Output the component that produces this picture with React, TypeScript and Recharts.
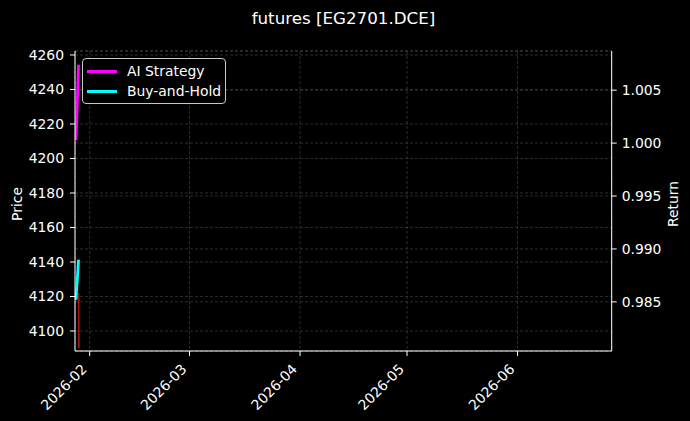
import React from "react";
import {
  ComposedChart,
  Line,
  XAxis,
  YAxis,
  CartesianGrid,
  Legend,
} from "recharts";

const DATES = ["2026-01-28T04:00:00Z", "2026-01-28T21:00:00Z", "2026-01-29T00:00:00Z"];
const STRATEGY = [1.0003, 1.0074, null];
const BUY_HOLD = [0.9852, 0.989, null];
const PRICE = [null, 4122, 4090];

const MONTH_TICKS = ["2026-02-01", "2026-03-01", "2026-04-01", "2026-05-01", "2026-06-01"];
const PRICE_TICKS = [4100, 4120, 4140, 4160, 4180, 4200, 4220, 4240, 4260];
const RETURN_TICKS = [0.985, 0.99, 0.995, 1.0, 1.005];

const X_DOMAIN = ["2026-01-27T21:07:00Z", "2026-06-27T09:36:00Z"];
const PRICE_DOMAIN = [4088.4, 4262.3];
const RETURN_DOMAIN = [0.98036, 1.0087];

const FONT = "'DejaVu Sans', sans-serif";
const GRID = "#4a4a4a";

const data = DATES.map((d, i) => ({
  t: Date.parse(d),
  strategy: STRATEGY[i],
  buyHold: BUY_HOLD[i],
  price: PRICE[i],
}));

const xTicks = MONTH_TICKS.map((d) => Date.parse(d + "T00:00:00Z"));
const xDomain = X_DOMAIN.map((d) => Date.parse(d));

const fmtMonth = (v: number) => {
  const d = new Date(v);
  return `${d.getUTCFullYear()}-${String(d.getUTCMonth() + 1).padStart(2, "0")}`;
};

const DateTick = ({ x, y, payload }: any) => {
  const ax = x - 2;
  const ay = y + 12;
  return (
    <text
      x={ax}
      y={ay}
      transform={`rotate(-45, ${ax}, ${ay})`}
      textAnchor="end"
      fill="#ffffff"
      fontSize={13.9}
      fontFamily={FONT}
    >
      {fmtMonth(payload.value)}
    </text>
  );
};

const SideLabel = ({ viewBox, text, cx }: any) => {
  const cy = viewBox.y + viewBox.height / 2 + 3;
  return (
    <text
      x={cx}
      y={cy}
      transform={`rotate(-90, ${cx}, ${cy})`}
      textAnchor="middle"
      dominantBaseline="central"
      fill="#ffffff"
      fontSize={13.9}
      fontFamily={FONT}
    >
      {text}
    </text>
  );
};

const LEGEND_ITEMS = [
  { name: "AI Strategy", color: "#ff00ff" },
  { name: "Buy-and-Hold", color: "#00ffff" },
];

const LegendBox = () => (
  <div
    style={{
      position: "relative",
      width: 144,
      height: 46,
      boxSizing: "border-box",
      border: "1px solid #c8c8c8",
      borderRadius: 4,
      background: "rgba(0,0,0,0.8)",
      fontFamily: FONT,
      fontSize: 13.9,
      color: "#ffffff",
    }}
  >
    {LEGEND_ITEMS.map((item, i) => (
      <div
        key={item.name}
        style={{ position: "absolute", left: 4, top: 2 + i * 20, height: 20, display: "flex", alignItems: "center" }}
      >
        <div style={{ width: 30, height: 3, background: item.color }} />
        <span style={{ marginLeft: 10, whiteSpace: "nowrap", lineHeight: "20px" }}>{item.name}</span>
      </div>
    ))}
  </div>
);

export default function App() {
  return (
    <div
      style={{
        position: "absolute",
        left: 0,
        top: 0,
        width: 690,
        height: 421,
        background: "#000000",
        fontFamily: FONT,
      }}
    >
      <div
        style={{
          position: "absolute",
          left: 0,
          top: 8,
          width: 687,
          textAlign: "center",
          color: "#ffffff",
          fontSize: 16.7,
          lineHeight: "20px",
        }}
      >
        futures [EG2701.DCE]
      </div>
      <ComposedChart
        width={690}
        height={421}
        data={data}
        margin={{ top: 51, right: 0, bottom: 0, left: 0 }}
      >
        <CartesianGrid
          xAxisId="bottom"
          yAxisId="price"
          stroke={GRID}
          strokeWidth={0.6}
          strokeDasharray="3 2"
        />
        <CartesianGrid
          xAxisId="bottom"
          yAxisId="ret"
          vertical={false}
          stroke={GRID}
          strokeWidth={0.6}
          strokeDasharray="3 2"
        />
        <XAxis
          xAxisId="bottom"
          dataKey="t"
          type="number"
          domain={xDomain}
          ticks={xTicks}
          allowDataOverflow
          height={70}
          stroke="#ffffff"
          tickSize={5}
          tick={<DateTick />}
          interval={0}
        />
        <XAxis
          xAxisId="top"
          orientation="top"
          dataKey="t"
          type="number"
          domain={xDomain}
          allowDataOverflow
          height={0}
          stroke="#ffffff"
          tick={false}
          tickLine={false}
        />
        <YAxis
          yAxisId="price"
          type="number"
          domain={PRICE_DOMAIN}
          ticks={PRICE_TICKS}
          allowDataOverflow
          width={75}
          stroke="#ffffff"
          tickSize={5}
          tickMargin={6}
          tick={{ fill: "#ffffff", fontSize: 13.9, fontFamily: FONT }}
          interval={0}
          label={<SideLabel text="Price" cx={17} />}
        />
        <YAxis
          yAxisId="ret"
          orientation="right"
          type="number"
          domain={RETURN_DOMAIN}
          ticks={RETURN_TICKS}
          allowDataOverflow
          width={78.3}
          stroke="#ffffff"
          tickSize={5}
          tickMargin={5}
          tick={{ fill: "#ffffff", fontSize: 13.9, fontFamily: FONT }}
          tickFormatter={(v: number) => v.toFixed(3)}
          interval={0}
          label={<SideLabel text="Return" cx={673} />}
        />
        <Line
          xAxisId="bottom"
          yAxisId="price"
          dataKey="price"
          type="linear"
          stroke="#b01818"
          strokeWidth={1.5}
          dot={false}
          isAnimationActive={false}
          legendType="none"
        />
        <Line
          xAxisId="bottom"
          yAxisId="ret"
          dataKey="strategy"
          name="AI Strategy"
          type="linear"
          stroke="#ff00ff"
          strokeWidth={2.8}
          dot={false}
          isAnimationActive={false}
        />
        <Line
          xAxisId="bottom"
          yAxisId="ret"
          dataKey="buyHold"
          name="Buy-and-Hold"
          type="linear"
          stroke="#00ffff"
          strokeWidth={2.8}
          dot={false}
          isAnimationActive={false}
        />
        <Legend
          layout="vertical"
          align="center"
          verticalAlign="middle"
          content={<LegendBox />}
          wrapperStyle={{ left: 82, top: 58, width: 144, height: 46 }}
        />
      </ComposedChart>
    </div>
  );
}
